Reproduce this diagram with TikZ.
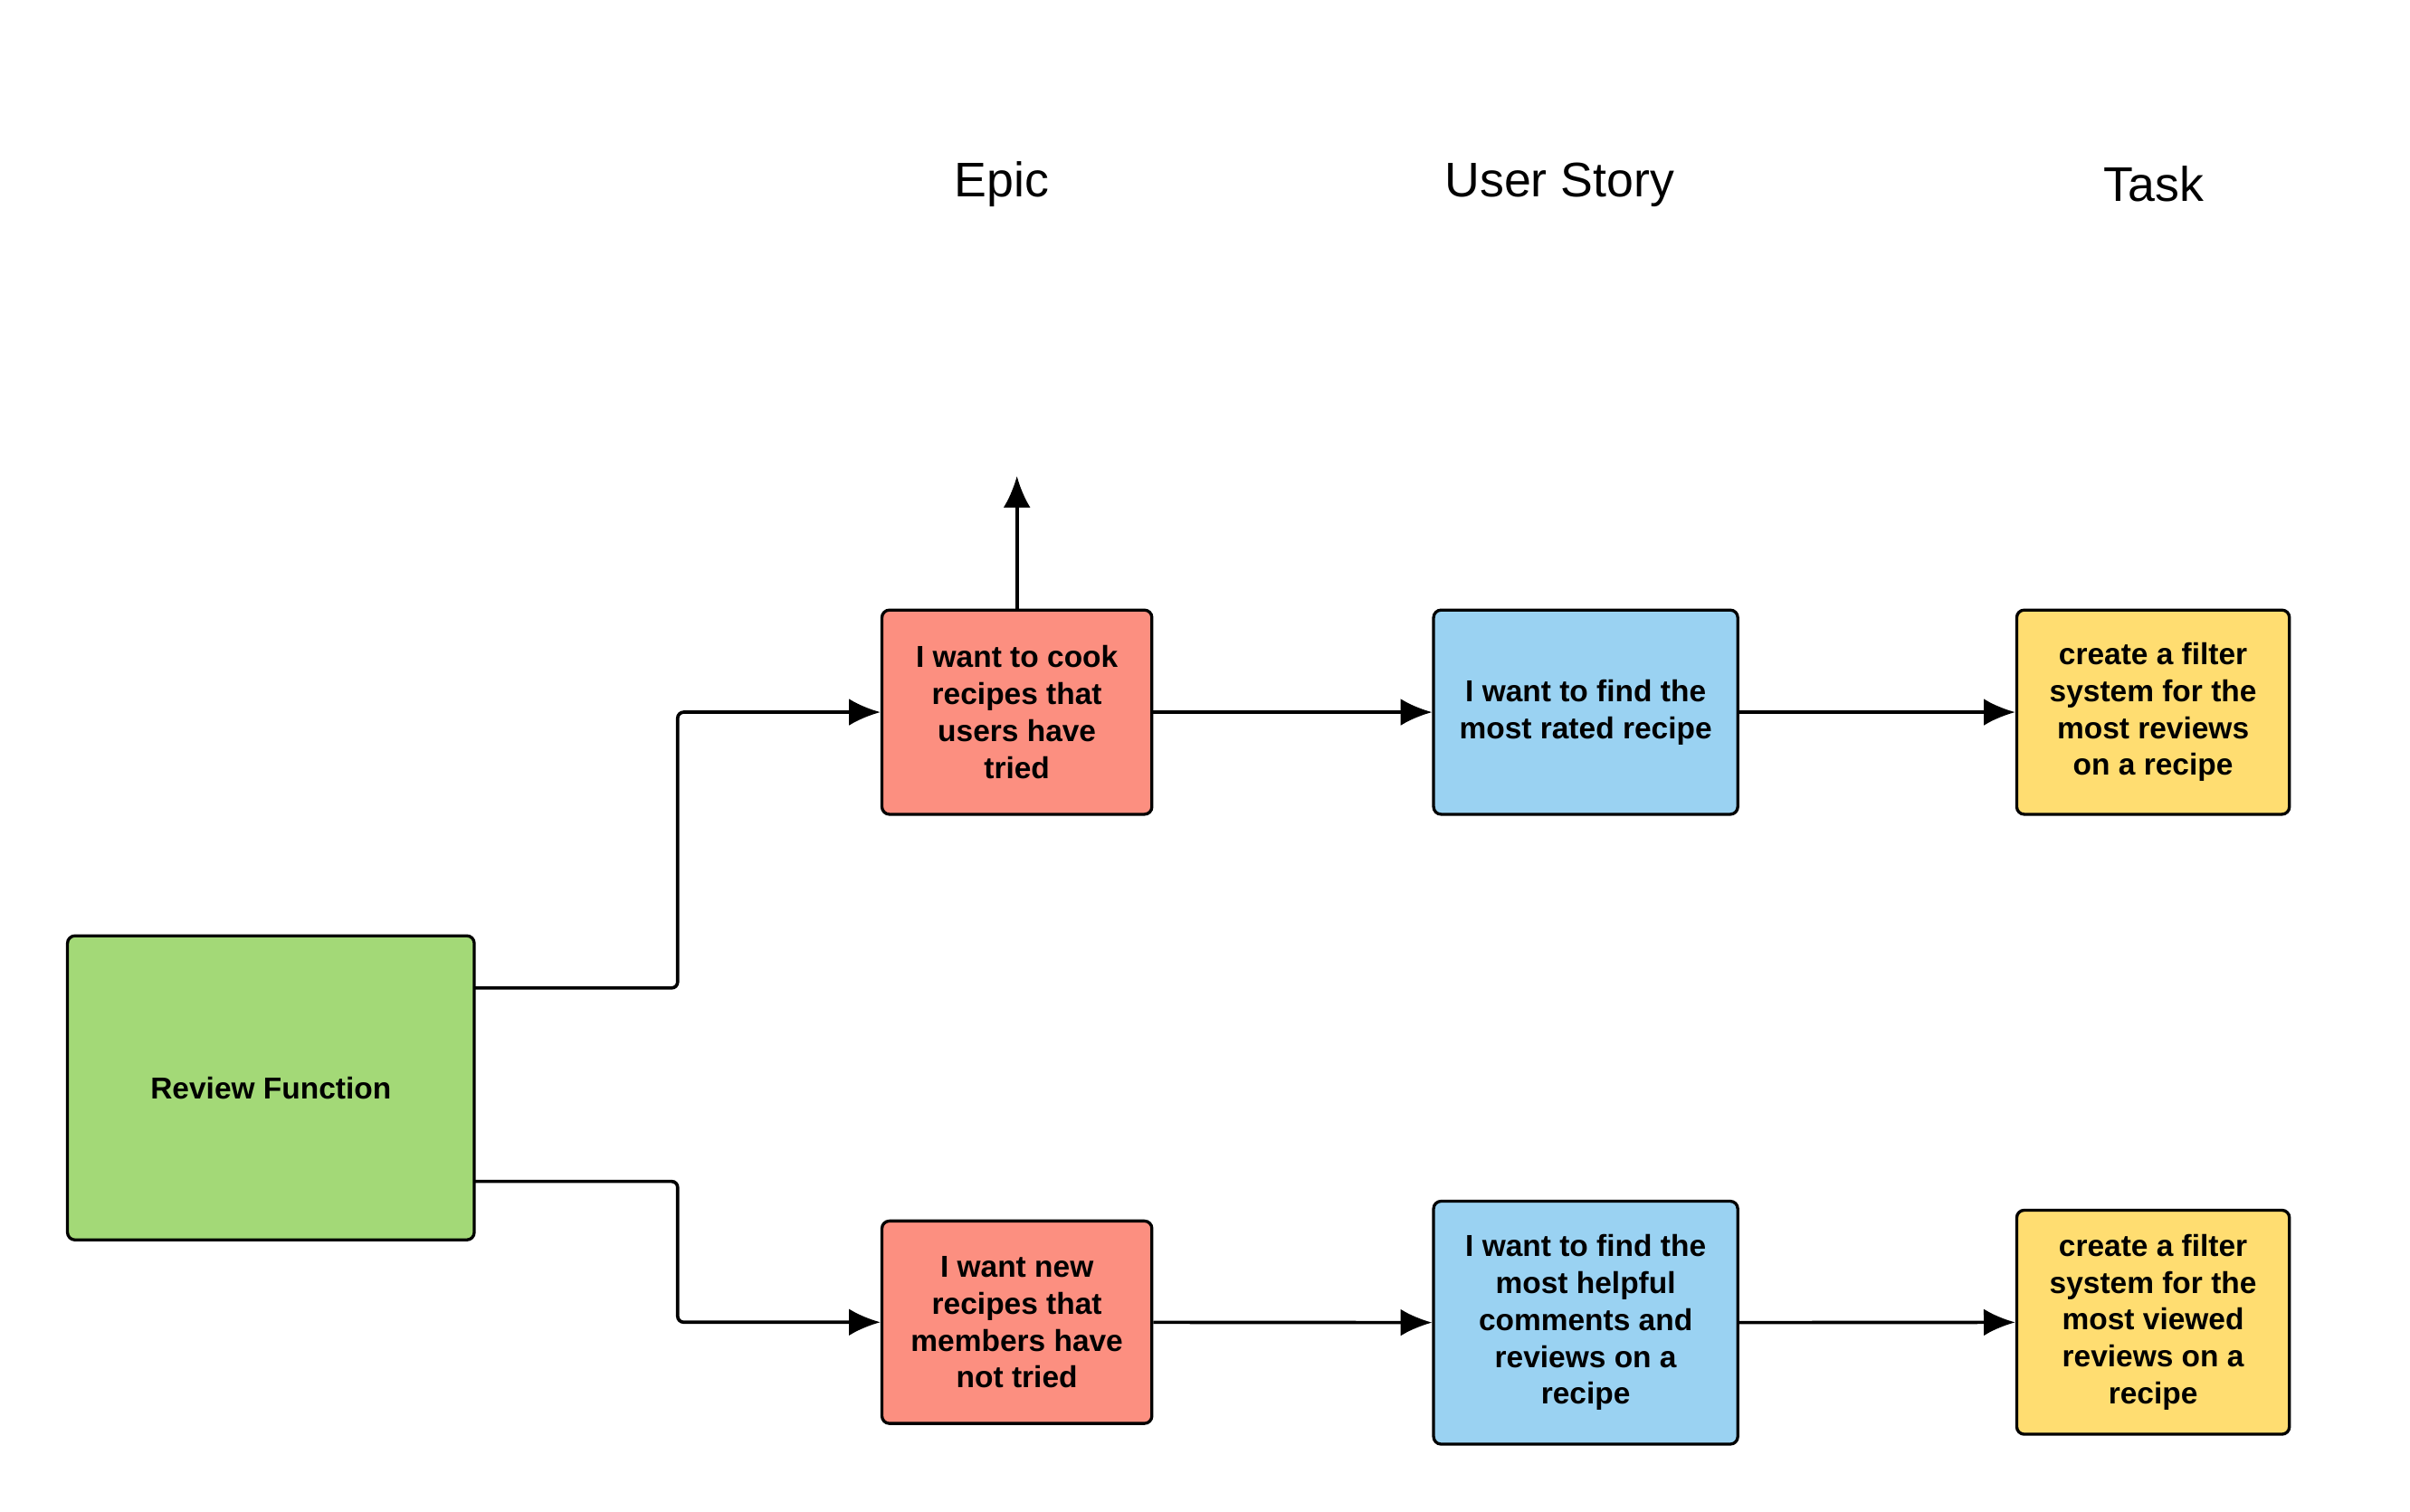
\documentclass[tikz,border=0pt]{standalone}
\usepackage{fontspec}
\setmainfont{Liberation Sans}
\usetikzlibrary{arrows.meta, positioning}

\definecolor{epicred}{HTML}{FC8F80}
\definecolor{storyblue}{HTML}{9AD2F2}
\definecolor{taskyellow}{HTML}{FFDD71}
\definecolor{funcgreen}{HTML}{A3D977}

\begin{document}
\begin{tikzpicture}[x=0.3pt,y=-0.3pt,
  card/.style={draw=black,line width=1pt,rounded corners=2.5pt,align=center,
    font=\bfseries\fontsize{10.1}{12.3}\selectfont,inner sep=0pt},
  head/.style={font=\fontsize{16.2}{19}\selectfont},
  link/.style={->,>={Latex[length=10.5pt,width=9pt]},line width=1.1pt,rounded corners=2pt}]
\useasboundingbox (0,0) rectangle (2678,1680);

%les titres
\node[head] (hepic) at (1113,205) {Epic};
\node[head] (hstory) at (1733,205) {User Story};
\node[head] (htask) at (2393,204) {Task};

%les boites
\node[card,fill=funcgreen,minimum width=452*0.3pt,minimum height=338*0.3pt] (func) at (301,1209) {Review Function};

\node[card,fill=epicred,minimum width=300*0.3pt,minimum height=227*0.3pt] (epicA) at (1130,791.5) {I want to cook\\recipes that\\users have\\tried};
\node[card,fill=epicred,minimum width=300*0.3pt,minimum height=225*0.3pt] (epicB) at (1130,1469.5) {I want new\\recipes that\\members have\\not tried};

\node[card,fill=storyblue,minimum width=338*0.3pt,minimum height=227*0.3pt] (storyA) at (1762,791.5) {I want to find the\\most rated recipe};
\node[card,fill=storyblue,minimum width=338*0.3pt,minimum height=270*0.3pt] (storyB) at (1762,1470) {I want to find the\\most helpful\\comments and\\reviews on a\\recipe};

\node[card,fill=taskyellow,minimum width=303*0.3pt,minimum height=227*0.3pt] (taskA) at (2392.5,791.5) {create a filter\\system for the\\most reviews\\on a recipe};
\node[card,fill=taskyellow,minimum width=303*0.3pt,minimum height=249*0.3pt] (taskB) at (2392.5,1469.5) {create a filter\\system for the\\most viewed\\reviews on a\\recipe};

%les fleches
\coordinate (gA) at (527,1098);
\coordinate (gB) at (527,1313);
\coordinate (bend) at (753,0);
\coordinate (up) at (1130,529);

\draw[link] (gA) -| (bend |- epicA.west) -- (epicA.west);
\draw[link] (gB) -| (bend |- epicB.west) -- (epicB.west);
\draw[link] (epicA.north) -- (up);
\draw[link] (epicA) -- (storyA);
\draw[link] (storyA) -- (taskA);
\draw[link] (epicB) -- (storyB);
\draw[link] (storyB) -- (taskB);

\end{tikzpicture}
\end{document}
